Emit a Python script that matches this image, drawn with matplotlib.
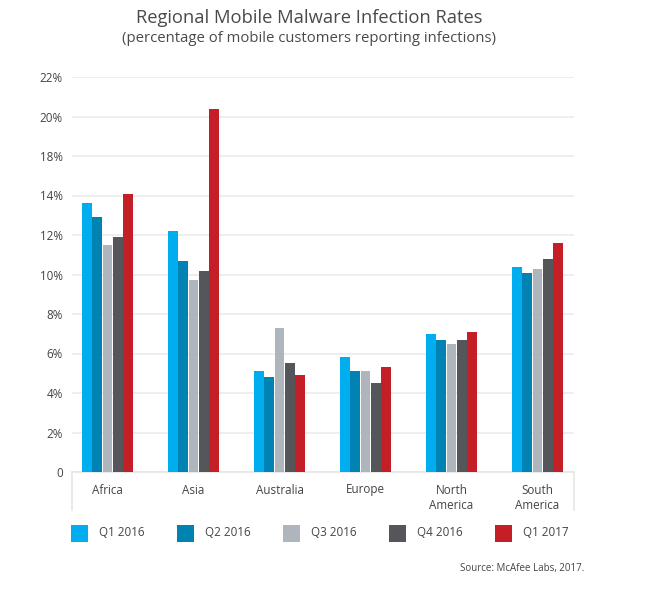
import numpy as np
import matplotlib
matplotlib.use('Agg')
import matplotlib.pyplot as plt
from matplotlib.patches import Rectangle

plt.rcParams['font.family'] = ['Open Sans', 'DejaVu Sans']

regions = ['Africa', 'Asia', 'Australia', 'Europe', 'North\nAmerica', 'South\nAmerica']
quarters = ['Q1 2016', 'Q2 2016', 'Q3 2016', 'Q4 2016', 'Q1 2017']
q1_2016 = [13.6, 12.2, 5.1, 5.8, 7.0, 10.4]
q2_2016 = [12.9, 10.7, 4.8, 5.1, 6.7, 10.1]
q3_2016 = [11.5, 9.7, 7.3, 5.1, 6.5, 10.3]
q4_2016 = [11.9, 10.2, 5.5, 4.5, 6.7, 10.8]
q1_2017 = [14.2, 20.4, 4.9, 5.3, 7.1, 11.6]
series = [q1_2016, q2_2016, q3_2016, q4_2016, q1_2017]
colors = ['#00aeef', '#0083b3', '#aeb5bc', '#55565a', '#c41e26']
# the original axis has no 16% tick, the steps are evenly spaced anyway
yticks = [0, 2, 4, 6, 8, 10, 12, 14, 18, 20, 22]
W, H = 660, 593


def forward(v):
    return np.interp(v, yticks, np.arange(len(yticks)))


def inverse(p):
    return np.interp(p, np.arange(len(yticks)), yticks)


fig = plt.figure(figsize=(W / 100, H / 100), dpi=100)
ax = fig.add_axes([72 / W, 1 - 472 / H, (574 - 72) / W, (472 - 77) / H])

step = 10.3 / 86
bw = 9.8 / 86
x = np.arange(len(regions))
for i, vals in enumerate(series):
    ax.bar(x + (i - 2) * step, vals, bw, color=colors[i], zorder=3)

ax.set_yscale('function', functions=(forward, inverse))
ax.set_xlim(-0.413, 5.424)
ax.set_ylim(0, 22)
ax.set_yticks(yticks)
ax.set_yticklabels(['0'] + [f'{v}%' for v in yticks[1:]], fontsize=8.4, color='#444444')
ax.minorticks_off()
ax.yaxis.grid(True, color='#ebebeb', lw=1.2, zorder=0)
ax.set_axisbelow(True)
ax.tick_params(axis='y', length=0, pad=6.5)
ax.set_xticks(x)
ax.set_xticklabels(regions, fontsize=8.4, color='#444444', linespacing=1.19)
ax.tick_params(axis='x', length=0, pad=9)
# Europe sits a bit low otherwise
ax.get_xticklabels()[3].set_y(0.004)
for s in ['top', 'right', 'left']:
    ax.spines[s].set_visible(False)
ax.spines['bottom'].set_color('#e6e6e6')
ax.spines['bottom'].set_linewidth(1.2)
# separator ticks below the axis
for sx in [72, 574]:
    fig.add_artist(plt.Line2D([sx / W, sx / W], [1 - 472 / H, 1 - 510 / H], color='#e6e6e6', lw=1.2))

fig.text(309.5 / W, 1 - 18 / H, 'Regional Mobile Malware Infection Rates', ha='center', va='center', fontsize=13.2, color='#4a4a4c')
fig.text(309 / W, 1 - 39 / H, '(percentage of mobile customers reporting infections)', ha='center', va='center', fontsize=10.7, color='#4a4a4c')

for lx, q, c in zip([71, 177, 283, 389, 495], quarters, colors):
    fig.add_artist(Rectangle((lx / W, 1 - 541.5 / H), 17 / W, 17 / H, color=c, lw=0, transform=fig.transFigure))
    fig.text((lx + 27.7) / W, 1 - 533 / H, q, ha='left', va='center', fontsize=8.4, color='#444444')

fig.text(584 / W, 1 - 569 / H, 'Source: McAfee Labs, 2017.', ha='right', va='center', fontsize=7, color='#444444')

fig.savefig('out.png', dpi=100)
